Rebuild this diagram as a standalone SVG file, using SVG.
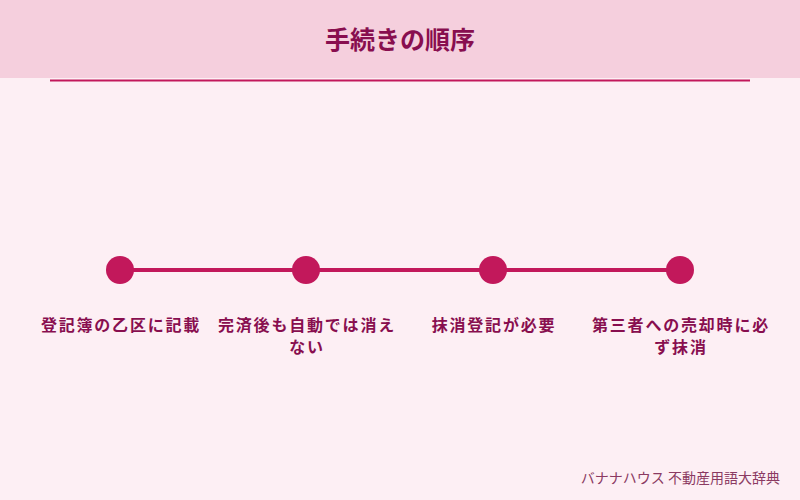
<svg xmlns="http://www.w3.org/2000/svg" width="800" height="500" viewBox="0 0 800 500">
<style>
.lbl{font-family:"Noto Sans CJK JP","Noto Sans",sans-serif;font-size:16px;letter-spacing:1.8px;font-weight:bold;fill:#880e4f;text-anchor:middle}
.dot{fill:#c2185b}
</style>
<rect x="0" y="0" width="800" height="500" fill="#fdeff4"/>
<rect x="0" y="0" width="800" height="78" fill="#f5cfdd"/>
<text x="400" y="49" font-family="Noto Sans CJK JP, sans-serif" font-size="25" font-weight="bold" fill="#880e4f" text-anchor="middle">手続きの順序</text>
<line x1="50" y1="80.5" x2="750" y2="80.5" stroke="#c2185b" stroke-width="2"/>
<g id="connectors">
<line x1="120" y1="270" x2="680" y2="270" stroke="#c2185b" stroke-width="4"/>
</g>
<g id="step1"><circle class="dot" cx="120" cy="270" r="14"/><text class="lbl" x="121" y="331">登記簿の乙区に記載</text></g>
<g id="step2"><circle class="dot" cx="306" cy="270" r="14"/><text class="lbl" x="307" y="331">完済後も自動では消え</text><text class="lbl" x="307" y="353">ない</text></g>
<g id="step3"><circle class="dot" cx="493" cy="270" r="14"/><text class="lbl" x="494" y="331">抹消登記が必要</text></g>
<g id="step4"><circle class="dot" cx="680" cy="270" r="14"/><text class="lbl" x="681" y="331">第三者への売却時に必</text><text class="lbl" x="681" y="353">ず抹消</text></g>
<text x="780" y="483" font-family="Noto Sans CJK JP, sans-serif" font-size="14" fill="#8b3a62" text-anchor="end">バナナハウス 不動産用語大辞典</text>
</svg>
